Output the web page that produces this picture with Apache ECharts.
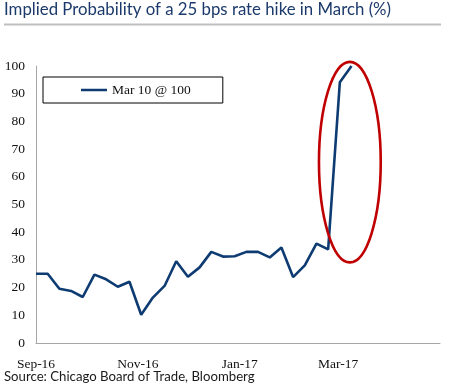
<!DOCTYPE html>
<html>
<head>
<meta charset="utf-8">
<script src="https://cdn.jsdelivr.net/npm/echarts@6/dist/echarts.min.js"></script>
<style>
  html, body { margin: 0; padding: 0; background: #fff; }
  #chart { width: 450px; height: 392px; }
</style>
</head>
<body>
<div id="chart"></div>
<script>
// ---- data ----
var dates = [
  '2016-09-02','2016-09-09','2016-09-16','2016-09-23','2016-09-30',
  '2016-10-07','2016-10-14','2016-10-21','2016-10-28',
  '2016-11-04','2016-11-11','2016-11-18','2016-11-25',
  '2016-12-02','2016-12-09','2016-12-16','2016-12-23','2016-12-30',
  '2017-01-06','2017-01-13','2017-01-20','2017-01-27',
  '2017-02-03','2017-02-10','2017-02-17','2017-02-24',
  '2017-03-03','2017-03-10'
];
var probability = [
  25, 25, 19.6, 18.8, 16.6,
  24.7, 23, 20.3, 22.1,
  10.2, 16.4, 20.6, 29.5,
  23.9, 27.3, 32.9, 31.2, 31.3,
  32.9, 32.9, 30.9, 34.5,
  23.8, 28, 35.9, 33.8,
  94.1, 100
];
var seriesName = 'Mar 10 @ 100';
var xTickDates = ['2016-09-02', '2016-11-02', '2017-01-02', '2017-03-02'];
var xTickLabels = ['Sep-16', 'Nov-16', 'Jan-17', 'Mar-17'];
var xRange = ['2016-09-02', '2017-05-02'];
var yTicks = [0, 10, 20, 30, 40, 50, 60, 70, 80, 90, 100];
// annotation ellipse (data units): center date, center value, half-width days, half-height value
var highlight = { date: '2017-03-09', value: 65.3, halfDays: 18.5, halfValue: 36.2 };

var titleText = 'Implied Probability of a 25 bps rate hike in March (%)';
var sourceText = 'Source: Chicago Board of Trade, Bloomberg';

function toTs(s) { return new Date(s + 'T00:00:00').getTime(); }

var tickTs = xTickDates.map(toTs);
var seriesData = dates.map(function (d, i) { return [toTs(d), probability[i]]; });

var chart = echarts.init(document.getElementById('chart'), null, { renderer: 'canvas' });

var serif = 'Liberation Serif';
var sans = 'Lato';

var option = {
  animation: false,
  backgroundColor: '#ffffff',
  textStyle: { fontFamily: serif },
  grid: { left: 36, right: 10, top: 66, bottom: 49, containLabel: false },
  legend: {
    left: 43, top: 77,
    padding: [6, 32, 6, 38],
    borderColor: '#000', borderWidth: 1,
    icon: 'rect', itemWidth: 26, itemHeight: 2.5, itemGap: 0,
    textStyle: { fontFamily: serif, fontSize: 13.5, color: '#111' },
    data: [seriesName]
  },
  xAxis: {
    type: 'value',
    min: toTs(xRange[0]), max: toTs(xRange[1]),
    axisLine: { show: true, lineStyle: { color: '#a6a6a6', width: 1 } },
    axisTick: { show: false },
    splitLine: { show: false },
    axisLabel: {
      customValues: tickTs,
      formatter: function (v) {
        var i = tickTs.indexOf(v);
        return i >= 0 ? xTickLabels[i] : '';
      },
      fontFamily: serif, fontSize: 13.5, color: '#111', margin: 14,
      hideOverlap: false
    }
  },
  yAxis: {
    type: 'value',
    min: yTicks[0], max: yTicks[yTicks.length - 1], interval: yTicks[1] - yTicks[0],
    axisLine: { show: true, lineStyle: { color: '#a6a6a6', width: 1 } },
    axisTick: { show: false },
    splitLine: { show: false },
    axisLabel: { fontFamily: serif, fontSize: 13.5, color: '#111', margin: 11 }
  },
  series: [{
    name: seriesName,
    type: 'line',
    data: seriesData,
    symbol: 'none',
    lineStyle: { color: '#0d3b72', width: 2.6 },
    itemStyle: { color: '#0d3b72' },
    z: 3
  }],
  graphic: [
    {
      type: 'text', left: 4, top: 1,
      style: { text: titleText, fontFamily: sans, fontSize: 16.8, fill: '#1b3a6b' }
    },
    {
      type: 'line',
      shape: { x1: 4, y1: 24.5, x2: 441, y2: 24.5 },
      style: { stroke: '#bfbfbf', lineWidth: 2 }
    },
    {
      type: 'text', left: 4, top: 370,
      style: { text: sourceText, fontFamily: sans, fontSize: 13.2, fill: '#1a1a1a' }
    }
  ]
};

chart.setOption(option);

// position annotation ellipse from data coordinates
var c = chart.convertToPixel({ gridIndex: 0 }, [toTs(highlight.date), highlight.value]);
var dayMs = 86400000;
var e1 = chart.convertToPixel({ gridIndex: 0 }, [toTs(highlight.date) + highlight.halfDays * dayMs, highlight.value + highlight.halfValue]);
chart.setOption({
  graphic: [{
    id: 'ellipse', type: 'ellipse', z: 10,
    shape: { cx: c[0], cy: c[1], rx: Math.abs(e1[0] - c[0]), ry: Math.abs(c[1] - e1[1]) },
    style: { fill: 'none', stroke: '#c00000', lineWidth: 2.6 }
  }]
});
</script>
</body>
</html>
